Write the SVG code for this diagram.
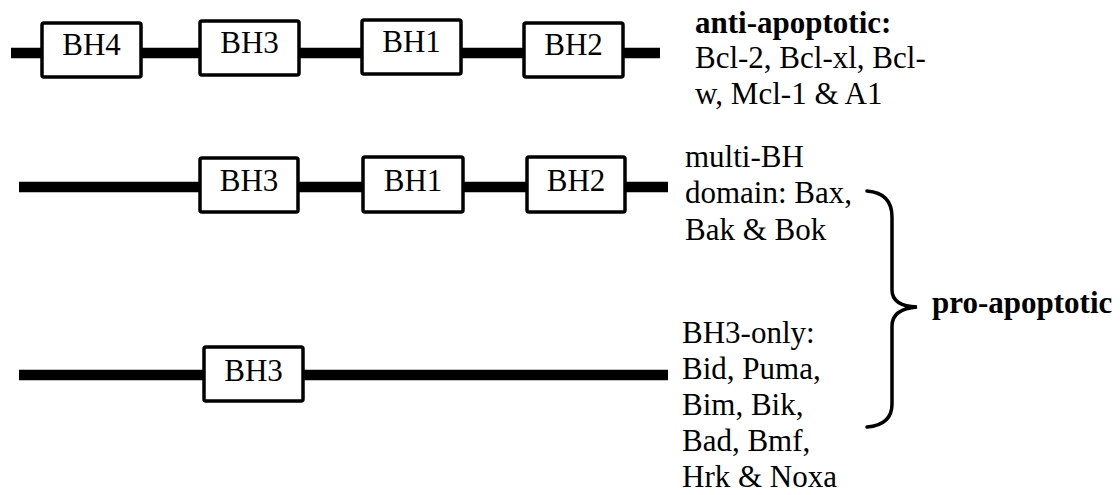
<svg xmlns="http://www.w3.org/2000/svg" width="1120" height="495" viewBox="0 0 1120 495">
<style>
.bb{fill:#fff;stroke:#000;stroke-width:3.5}
.ln{stroke:#000;stroke-width:10.5;fill:none}
.t{font-family:'Liberation Serif',Tinos,'Times New Roman',Times,serif;font-size:31px;fill:#000}
.c{text-anchor:middle}
.b{font-weight:bold}
.br{fill:none;stroke:#000;stroke-width:3.5;stroke-linecap:round}
</style>
<rect width="1120" height="495" fill="#fff"/>
<g id="connectors">
<line class="ln" x1="11" y1="53" x2="660" y2="53"/>
<line class="ln" x1="19" y1="187" x2="668" y2="187"/>
<line class="ln" x1="19" y1="375" x2="668" y2="375"/>
<path class="br" d="M867 191 Q892 193 892 217 L892 290 Q892 306 917 307 Q892 309 892 326 L892 404 Q892 425 867 427"/>
</g>
<g id="r1-bh4"><rect class="bb" x="42" y="23" width="99" height="54" rx="2"/><text class="t c" x="91.5" y="55" font-family="Liberation Serif, serif">BH4</text></g>
<g id="r1-bh3"><rect class="bb" x="200" y="21" width="99" height="54" rx="2"/><text class="t c" x="249.5" y="53" font-family="Liberation Serif, serif">BH3</text></g>
<g id="r1-bh1"><rect class="bb" x="362" y="20" width="99" height="54" rx="2"/><text class="t c" x="411.5" y="52" font-family="Liberation Serif, serif">BH1</text></g>
<g id="r1-bh2"><rect class="bb" x="524" y="23" width="99" height="54" rx="2"/><text class="t c" x="573.5" y="55" font-family="Liberation Serif, serif">BH2</text></g>
<g id="r2-bh3"><rect class="bb" x="200" y="158" width="98" height="54" rx="2"/><text class="t c" x="249" y="191" font-family="Liberation Serif, serif">BH3</text></g>
<g id="r2-bh1"><rect class="bb" x="363" y="157" width="100" height="55" rx="2"/><text class="t c" x="413" y="191" font-family="Liberation Serif, serif">BH1</text></g>
<g id="r2-bh2"><rect class="bb" x="527" y="157" width="98" height="55" rx="2"/><text class="t c" x="576" y="191" font-family="Liberation Serif, serif">BH2</text></g>
<g id="r3-bh3"><rect class="bb" x="204" y="347" width="99" height="54" rx="2"/><text class="t c" x="253.5" y="381" font-family="Liberation Serif, serif">BH3</text></g>
<g id="anti" font-family="Liberation Serif, serif">
<text class="t b" x="695" y="33">anti-apoptotic:</text>
<text class="t" x="695" y="68">Bcl-2, Bcl-xl, Bcl-</text>
<text class="t" x="695" y="104">w, Mcl-1 &amp; A1</text>
</g>
<g id="multi">
<text class="t" x="685" y="167">multi-BH</text>
<text class="t" x="685" y="203">domain: Bax,</text>
<text class="t" x="685" y="240">Bak &amp; Bok</text>
</g>
<g id="bh3only">
<text class="t" x="682" y="343">BH3-only:</text>
<text class="t" x="682" y="379">Bid, Puma,</text>
<text class="t" x="682" y="415">Bim, Bik,</text>
<text class="t" x="682" y="451">Bad, Bmf,</text>
<text class="t" x="682" y="487">Hrk &amp; Noxa</text>
</g>
<g id="pro"><text class="t b" x="932" y="313">pro-apoptotic</text></g>
</svg>
